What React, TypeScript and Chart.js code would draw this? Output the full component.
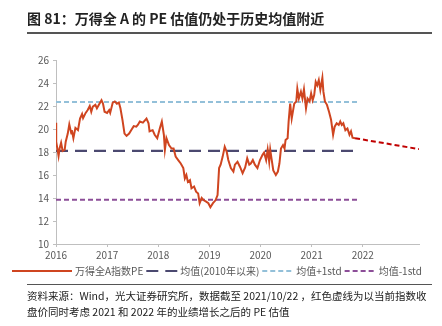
import React, { useEffect, useRef } from 'react';
import { Chart, registerables } from 'chart.js';

Chart.register(...registerables);

// ---- data (decimal years) ----
const peDates = [
  2016.0, 2016.004, 2016.05, 2016.07, 2016.10, 2016.13, 2016.17, 2016.19, 2016.23, 2016.26,
  2016.30, 2016.31, 2016.34, 2016.38, 2016.43, 2016.47, 2016.51, 2016.53, 2016.58, 2016.62,
  2016.66, 2016.69, 2016.72, 2016.77, 2016.80, 2016.85, 2016.89, 2016.92, 2016.95, 2017.00,
  2017.04, 2017.06, 2017.11, 2017.15, 2017.19, 2017.23, 2017.26, 2017.30, 2017.34, 2017.38,
  2017.43, 2017.47, 2017.52, 2017.57, 2017.60, 2017.64, 2017.70, 2017.77, 2017.81, 2017.83,
  2017.89, 2017.93, 2017.98, 2018.03, 2018.07, 2018.11, 2018.13, 2018.16, 2018.21, 2018.26,
  2018.30, 2018.34, 2018.39, 2018.44, 2018.49, 2018.52, 2018.55, 2018.58, 2018.62, 2018.65,
  2018.70, 2018.74, 2018.78, 2018.81, 2018.85, 2018.89, 2018.93, 2018.98, 2019.02, 2019.07,
  2019.12, 2019.16, 2019.19, 2019.22, 2019.26, 2019.30, 2019.34, 2019.37, 2019.42, 2019.47,
  2019.50, 2019.55, 2019.60, 2019.65, 2019.70, 2019.74, 2019.78, 2019.81, 2019.85, 2019.89,
  2019.94, 2019.99, 2020.04, 2020.07, 2020.11, 2020.14, 2020.17, 2020.19, 2020.22, 2020.25,
  2020.30, 2020.34, 2020.37, 2020.40, 2020.44, 2020.47, 2020.49, 2020.53, 2020.55, 2020.58,
  2020.61, 2020.66, 2020.70, 2020.72, 2020.75, 2020.79, 2020.82, 2020.85, 2020.89, 2020.92,
  2020.96, 2020.99, 2021.02, 2021.05, 2021.08, 2021.11, 2021.14, 2021.17, 2021.21, 2021.23,
  2021.26, 2021.30, 2021.34, 2021.38, 2021.42, 2021.45, 2021.49, 2021.53, 2021.56, 2021.59,
  2021.62, 2021.66, 2021.70, 2021.74, 2021.77, 2021.80, 2021.85,
];
const peValues = [
  20.55, 18.9, 17.65, 18.3, 18.8, 18.1, 18.2, 18.9, 19.6, 20.4,
  19.6, 19.9, 19.2, 20.1, 19.9, 20.9, 21.3, 20.95, 21.4, 21.65,
  22.0, 21.5, 21.95, 22.1, 21.8, 22.2, 22.5, 22.2, 21.5, 21.4,
  21.65, 21.4, 22.3, 22.4, 22.2, 22.3, 21.8, 20.8, 19.6, 19.4,
  19.6, 19.9, 20.25, 20.2, 20.35, 20.65, 20.55, 20.9, 20.5, 19.8,
  19.9, 19.5, 19.2, 20.05, 20.65, 19.5, 18.2, 19.2, 18.6, 18.3,
  18.3, 17.6, 17.3, 17.0, 16.6, 15.7, 16.0, 15.4, 15.55, 14.85,
  15.0, 14.55, 14.4, 13.55, 14.0, 13.8, 13.7, 13.55, 13.2, 13.55,
  13.8, 14.25, 16.6, 16.9, 17.6, 18.45, 18.0, 17.3, 16.6, 16.3,
  16.9, 17.15, 16.7, 16.15, 16.65, 17.45, 16.9, 17.0, 17.3, 16.9,
  16.6, 17.3, 17.75, 17.95, 17.3, 18.2, 17.15, 18.2, 17.3, 16.4,
  16.0, 16.3, 17.0, 18.3, 18.6, 18.3, 19.05, 19.2, 20.65, 22.2,
  20.9, 22.2, 22.4, 23.5, 22.65, 23.25, 22.65, 23.45, 21.8, 22.65,
  22.4, 23.1, 22.5, 22.95, 24.1, 23.8, 24.25, 23.4, 24.45, 23.25,
  22.4, 22.1, 21.5, 20.8, 19.5, 20.2, 20.5, 20.35, 20.65, 20.35,
  20.5, 19.9, 20.05, 19.5, 19.8, 19.25, 19.2,
];

const meanValue = 18.1;
const meanPlusStd = 22.35;
const meanMinusStd = 13.85;
const refRange = [2016, 2021.89];

const forecastDates = [2021.85, 2023.1];
const forecastValues = [19.2, 18.25];

const xTickYears = [2016, 2017, 2018, 2019, 2020, 2021, 2022];
const yMin = 10;
const yMax = 26;
const yStep = 2;

const seriesNames = ['万得全A指数PE', '均值(2010年以来)', '均值+1std', '均值-1std'];
const titleText = '图 81：万得全 A 的 PE 估值仍处于历史均值附近';
const sourceLines = [
  '资料来源：Wind，光大证券研究所，数据截至 2021/10/22 ，红色虚线为以当前指数收',
  '盘价同时考虑 2021 和 2022 年的业绩增长之后的 PE 估值',
];

const COLORS = {
  pe: '#cf4520',
  mean: '#4b4970',
  upper: '#93c0d9',
  lower: '#8c4e98',
  forecast: '#c00000',
};

const FONT = '"Noto Sans CJK SC", "Noto Sans", sans-serif';

export default function App() {
  const canvasRef = useRef<HTMLCanvasElement>(null);

  useEffect(() => {
    document.body.style.margin = '0';
    const canvas = canvasRef.current;
    if (!canvas) return;

    const hLine = (v: number) => refRange.map((x) => ({ x, y: v }));

    const legendItems = [
      { label: seriesNames[0], color: COLORS.pe, dash: [] as number[], len: 60 },
      { label: seriesNames[1], color: COLORS.mean, dash: [12, 7], len: 31 },
      { label: seriesNames[2], color: COLORS.upper, dash: [5, 3], len: 31 },
      { label: seriesNames[3], color: COLORS.lower, dash: [5, 3], len: 31 },
    ];

    const legendPlugin = {
      id: 'customLegend',
      afterDraw(chart: any) {
        const c = chart.ctx as CanvasRenderingContext2D;
        c.save();
        c.font = `10px ${FONT}`;
        c.textBaseline = 'middle';
        let x = 12;
        const y = 271;
        for (const item of legendItems) {
          c.strokeStyle = item.color;
          c.lineWidth = 2;
          c.setLineDash(item.dash);
          c.beginPath();
          c.moveTo(x, y);
          c.lineTo(x + item.len, y);
          c.stroke();
          x += item.len + 3;
          c.setLineDash([]);
          c.fillStyle = '#595959';
          c.fillText(item.label, x, y + 0.5);
          x += c.measureText(item.label).width + 3;
        }
        c.restore();
      },
    };

    const chart = new Chart(canvas, {
      type: 'line',
      data: {
        datasets: [
          {
            label: seriesNames[0],
            data: peDates.map((x, i) => ({ x, y: peValues[i] })),
            borderColor: COLORS.pe,
            borderWidth: 2,
            pointRadius: 0,
            tension: 0,
            order: 0,
          },
          {
            label: seriesNames[1],
            data: hLine(meanValue),
            borderColor: COLORS.mean,
            borderWidth: 2.2,
            borderDash: [12, 7],
            pointRadius: 0,
            order: 1,
          },
          {
            label: seriesNames[2],
            data: hLine(meanPlusStd),
            borderColor: COLORS.upper,
            borderWidth: 2,
            borderDash: [5, 3],
            pointRadius: 0,
            order: 2,
          },
          {
            label: seriesNames[3],
            data: hLine(meanMinusStd),
            borderColor: COLORS.lower,
            borderWidth: 2,
            borderDash: [5, 3],
            pointRadius: 0,
            order: 3,
          },
          {
            label: 'forecast',
            data: forecastDates.map((x, i) => ({ x, y: forecastValues[i] })),
            borderColor: COLORS.forecast,
            borderWidth: 2,
            borderDash: [5, 3],
            pointRadius: 0,
            order: 4,
          },
        ],
      },
      options: {
        animation: false,
        responsive: false,
        maintainAspectRatio: false,
        layout: { padding: { top: 60, right: 23, bottom: 62, left: 0 } },
        plugins: {
          legend: { display: false },
          tooltip: { enabled: false },
          title: { display: false },
        },
        scales: {
          x: {
            type: 'linear',
            min: 2016,
            max: forecastDates[forecastDates.length - 1],
            afterBuildTicks: (scale: any) => {
              scale.ticks = xTickYears.map((v) => ({ value: v }));
            },
            afterFit: (scale: any) => {
              scale.height = 20;
            },
            grid: {
              drawOnChartArea: false,
              color: '#bfbfbf',
              tickLength: 3,
            },
            border: { color: '#bfbfbf', width: 1 },
            ticks: {
              autoSkip: false,
              maxRotation: 0,
              padding: 2,
              color: '#595959',
              font: { family: FONT, size: 10 },
              callback: (v: any) => String(v),
            },
          },
          y: {
            min: yMin,
            max: yMax,
            afterFit: (scale: any) => {
              scale.width = 56;
            },
            grid: {
              drawOnChartArea: false,
              color: '#bfbfbf',
              tickLength: 3,
            },
            border: { color: '#bfbfbf', width: 1 },
            ticks: {
              stepSize: yStep,
              padding: 4,
              color: '#595959',
              font: { family: FONT, size: 10 },
            },
          },
        },
      },
      plugins: [legendPlugin],
    } as any);

    return () => chart.destroy();
  }, []);

  return (
    <div style={{ position: 'relative', width: 442, height: 326, background: '#fff', overflow: 'hidden' }}>
      <canvas ref={canvasRef} width={442} height={326} style={{ position: 'absolute', left: 0, top: 0 }} />
      <div
        style={{
          position: 'absolute',
          left: 27,
          top: 8,
          fontFamily: FONT,
          fontWeight: 'bold',
          fontSize: 14,
          lineHeight: '20px',
          color: '#222',
          whiteSpace: 'nowrap',
        }}
      >
        {titleText}
      </div>
      <div style={{ position: 'absolute', left: 27, top: 32, width: 405, height: 2, background: '#555' }} />
      <div style={{ position: 'absolute', left: 27, top: 284, width: 405, height: 1, background: '#555' }} />
      <div
        style={{
          position: 'absolute',
          left: 27,
          top: 288,
          fontFamily: FONT,
          fontSize: 10.5,
          lineHeight: '16px',
          color: '#222',
          whiteSpace: 'nowrap',
        }}
      >
        {sourceLines.map((l, i) => (
          <div key={i}>{l}</div>
        ))}
      </div>
    </div>
  );
}
